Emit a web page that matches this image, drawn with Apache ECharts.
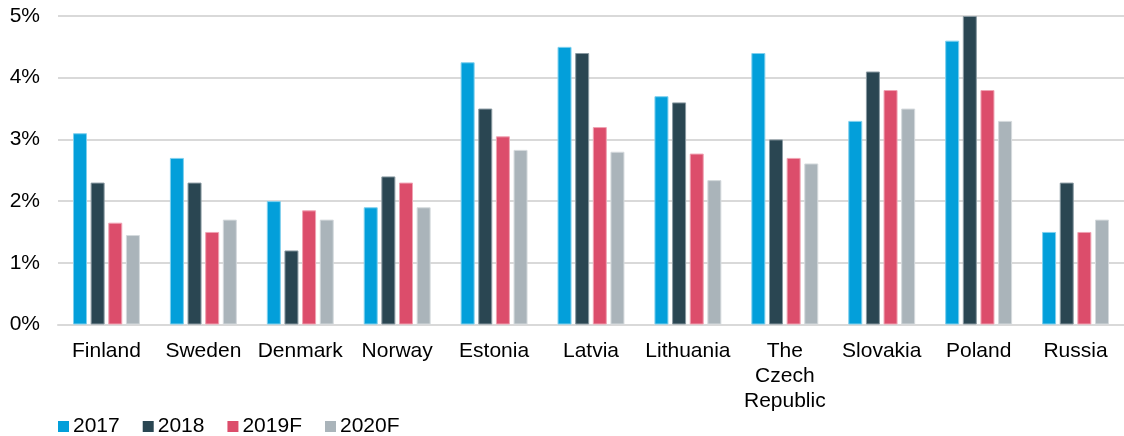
<!DOCTYPE html>
<html>
<head>
<meta charset="utf-8">
<script src="https://cdn.jsdelivr.net/npm/echarts@6/dist/echarts.min.js"></script>
<style>
  html, body { margin: 0; padding: 0; background: #fff; }
  #chart { width: 1124px; height: 436px; }
</style>
</head>
<body>
<div id="chart"></div>
<script>
const countries = ['Finland', 'Sweden', 'Denmark', 'Norway', 'Estonia', 'Latvia', 'Lithuania', 'The\nCzech\nRepublic', 'Slovakia', 'Poland', 'Russia']
const years = ['2017', '2018', '2019F', '2020F']
const v2017 = [3.1, 2.7, 2.0, 1.9, 4.25, 4.5, 3.7, 4.4, 3.3, 4.6, 1.5]
const v2018 = [2.3, 2.3, 1.2, 2.4, 3.5, 4.4, 3.6, 3.0, 4.1, 5.0, 2.3]
const v2019 = [1.65, 1.5, 1.85, 2.3, 3.05, 3.2, 2.77, 2.7, 3.8, 3.8, 1.5]
const v2020 = [1.45, 1.7, 1.7, 1.9, 2.83, 2.8, 2.34, 2.61, 3.5, 3.3, 1.7]
const yTicks = [0, 1, 2, 3, 4, 5]

const colors = ['#039fda', '#2a4652', '#dc4d6b', '#aab4ba']
const borders = ['#7fd0ee', '#8a9aa2', '#f0a3b3', '#d5dadd']
const values = [v2017, v2018, v2019, v2020]

let myChart = echarts.init(document.getElementById('chart'))
let font = 'Liberation Sans, Arial, sans-serif'
let option = {
  animation: false,
  textStyle: { fontFamily: font },
  color: colors,
  grid: {
    left: 58,
    right: -6,
    top: 16,
    bottom: 111.5,
    containLabel: false,
  },
  legend: {
    left: 53,
    top: 411,
    icon: 'rect',
    itemWidth: 11,
    itemHeight: 11,
    itemGap: 23,
    itemStyle: { borderWidth: 0 },
    textStyle: { fontSize: 21, color: '#000', fontFamily: font, padding: [0, 0, 0, -1] },
    data: years,
  },
  xAxis: {
    type: 'category',
    data: countries,
    axisTick: { show: false },
    axisLine: { lineStyle: { color: '#d9d9d9', width: 2 } },
    axisLabel: {
      color: '#000',
      fontSize: 21,
      lineHeight: 25,
      margin: 14,
      interval: 0,
      fontFamily: font,
    },
  },
  yAxis: {
    type: 'value',
    min: yTicks[0],
    max: yTicks[yTicks.length - 1],
    interval: 1,
    axisLine: { show: false },
    axisTick: { show: false },
    splitLine: { lineStyle: { color: '#d9d9d9', width: 2 } },
    axisLabel: {
      color: '#000',
      fontSize: 21,
      margin: 18,
      fontFamily: font,
      formatter: '{value}%',
    },
  },
  series: years.map((name, i) => ({
    name: name,
    type: 'bar',
    data: values[i],
    barWidth: 14,
    barGap: '26%',
    itemStyle: { color: colors[i], borderColor: borders[i], borderWidth: 1 },
  })),
}
option && myChart.setOption(option)
</script>
</body>
</html>
